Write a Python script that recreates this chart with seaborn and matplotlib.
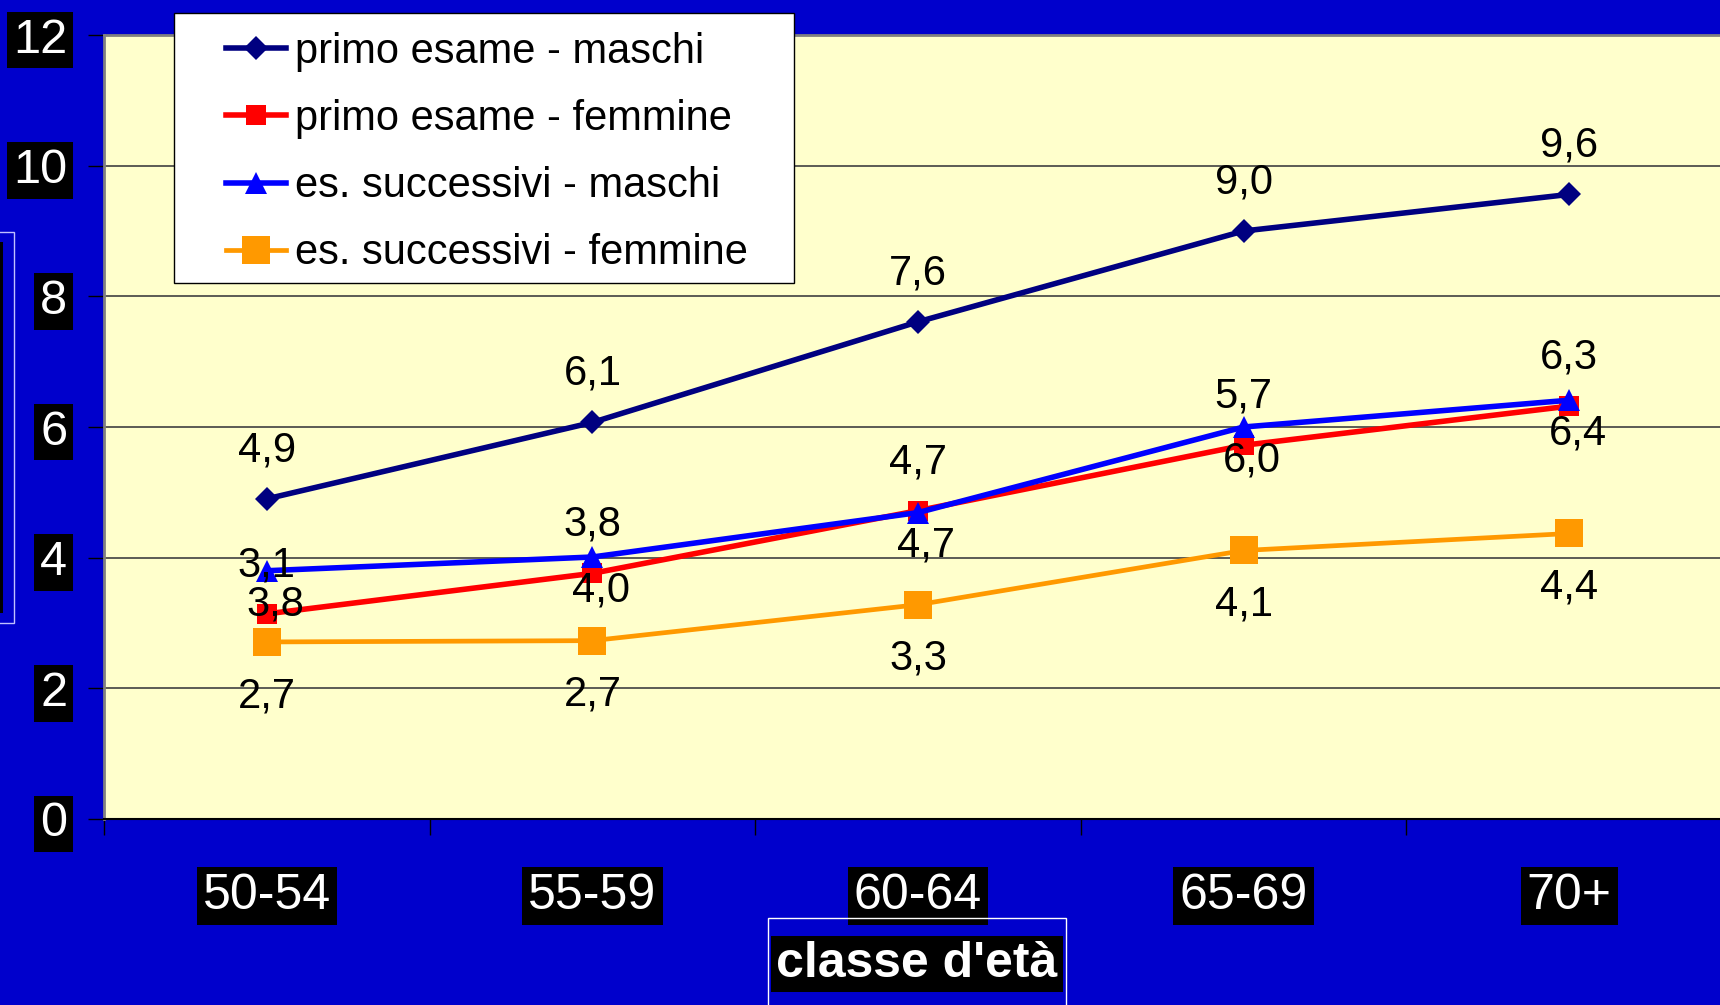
import numpy as np
import pandas as pd
import matplotlib
matplotlib.use('Agg')
import matplotlib.pyplot as plt
from matplotlib.patches import Rectangle
import seaborn as sns

# Data
age_classes = ['50-54', '55-59', '60-64', '65-69', '70+']
primo_maschi = [4.9, 6.07, 7.61, 9.0, 9.56]
primo_femmine = [3.14, 3.76, 4.72, 5.72, 6.32]
succ_maschi = [3.8, 4.01, 4.69, 6.0, 6.41]
succ_femmine = [2.71, 2.73, 3.28, 4.11, 4.37]
series_names = ['primo esame - maschi', 'primo esame - femmine',
                'es. successivi - maschi', 'es. successivi - femmine']
y_ticks = [0, 2, 4, 6, 8, 10, 12]

plt.rcParams['font.family'] = ['Liberation Sans', 'DejaVu Sans']

W, H = 1720, 1005
fig = plt.figure(figsize=(W / 100, H / 100), dpi=100, facecolor='#0000CC')
ax = fig.add_axes([104 / W, 1 - 819 / H, 1628 / W, (819 - 35) / H])
ax.set_facecolor('#FFFFCC')

# color, marker, markersize, linewidth, label offset (x, y) in points
styles = [
    ('#000080', 'D', 12.5, 4.0, (0, 35)),
    ('#FF0000', 's', 14.5, 4.0, (0, 35)),
    ('#0000FF', '^', 16, 4.0, (6, -24)),
    ('#FF9900', 's', 20, 3.4, (0, -39)),
]
all_values = [primo_maschi, primo_femmine, succ_maschi, succ_femmine]

for name, vals, (col, mk, ms, lw, off) in zip(series_names, all_values, styles):
    df = pd.DataFrame({'classe': age_classes, 'valore': vals})
    sns.lineplot(data=df, x='classe', y='valore', ax=ax, color=col, lw=lw,
                 marker=mk, markersize=ms, markeredgecolor=col,
                 markeredgewidth=0, sort=False, label=name)
    for c, v in zip(age_classes, vals):
        ax.annotate(f'{v:.1f}'.replace('.', ','), xy=(c, v), xytext=off,
                    textcoords='offset points', ha='center', va='center',
                    fontsize=30, color='black')

if ax.get_legend() is not None:
    ax.get_legend().remove()

ax.set_xlim(-0.5, 4.5)
ax.set_ylim(0, 12)
ax.set_yticks(y_ticks)
ax.set_xticks(range(len(age_classes)))
ax.set_xticklabels(age_classes)
ax.set_xticks(np.arange(-0.5, len(age_classes), 1), minor=True)
ax.set_xlabel('')
ax.set_ylabel('')

ax.yaxis.grid(True, color='#404040', lw=1.2)
ax.set_axisbelow(True)

for side in ['left', 'top', 'right']:
    ax.spines[side].set_color('#808080')
    ax.spines[side].set_linewidth(2)
ax.spines['bottom'].set_color('black')
ax.spines['bottom'].set_linewidth(1.5)

ax.tick_params(axis='y', direction='out', length=11.5, width=1, color='black',
               pad=15, labelsize=35, labelcolor='white')
ax.tick_params(axis='x', which='major', length=0, pad=39, labelsize=36,
               labelcolor='white')
ax.tick_params(axis='x', which='minor', direction='out', length=11.5, width=1,
               color='black')
for lbl in ax.get_xticklabels() + ax.get_yticklabels():
    lbl.set_bbox(dict(boxstyle='square,pad=0.12', fc='black', ec='none'))

# legend with its white box
fig.add_artist(Rectangle((174 / W, 1 - 283 / H), 620 / W, 270 / H,
                         transform=fig.transFigure, fc='white', ec='black',
                         lw=1, zorder=3))
handles, labels = ax.get_legend_handles_labels()
fig.legend(handles, labels, loc='upper left',
           bbox_to_anchor=(226 / W, 1 - 32 / H), bbox_transform=fig.transFigure,
           frameon=False, borderpad=0, borderaxespad=0, fontsize=30,
           handlelength=1.45, handletextpad=0.2, labelspacing=0.65)

# x axis title
fig.add_artist(Rectangle((768 / W, 1 - 1010 / H), 298 / W, 92 / H,
                         transform=fig.transFigure, fc='none', ec='white',
                         lw=1, zorder=3))
fig.text(917 / W, 1 - 964 / H, "classe d'età", ha='center', va='center',
         fontsize=36, fontweight='bold', color='white',
         bbox=dict(boxstyle='square,pad=0.1', fc='black', ec='none'))

# y axis title box, cut off at the left edge
fig.add_artist(Rectangle((-10 / W, 1 - 623 / H), 24 / W, 391 / H,
                         transform=fig.transFigure, fc='none', ec='#C0C0FF',
                         lw=1, zorder=3))
fig.add_artist(Rectangle((-10 / W, 1 - 613 / H), 13 / W, 371 / H,
                         transform=fig.transFigure, fc='black', ec='none',
                         zorder=3))

fig.savefig('out.png', dpi=100, facecolor=fig.get_facecolor())
